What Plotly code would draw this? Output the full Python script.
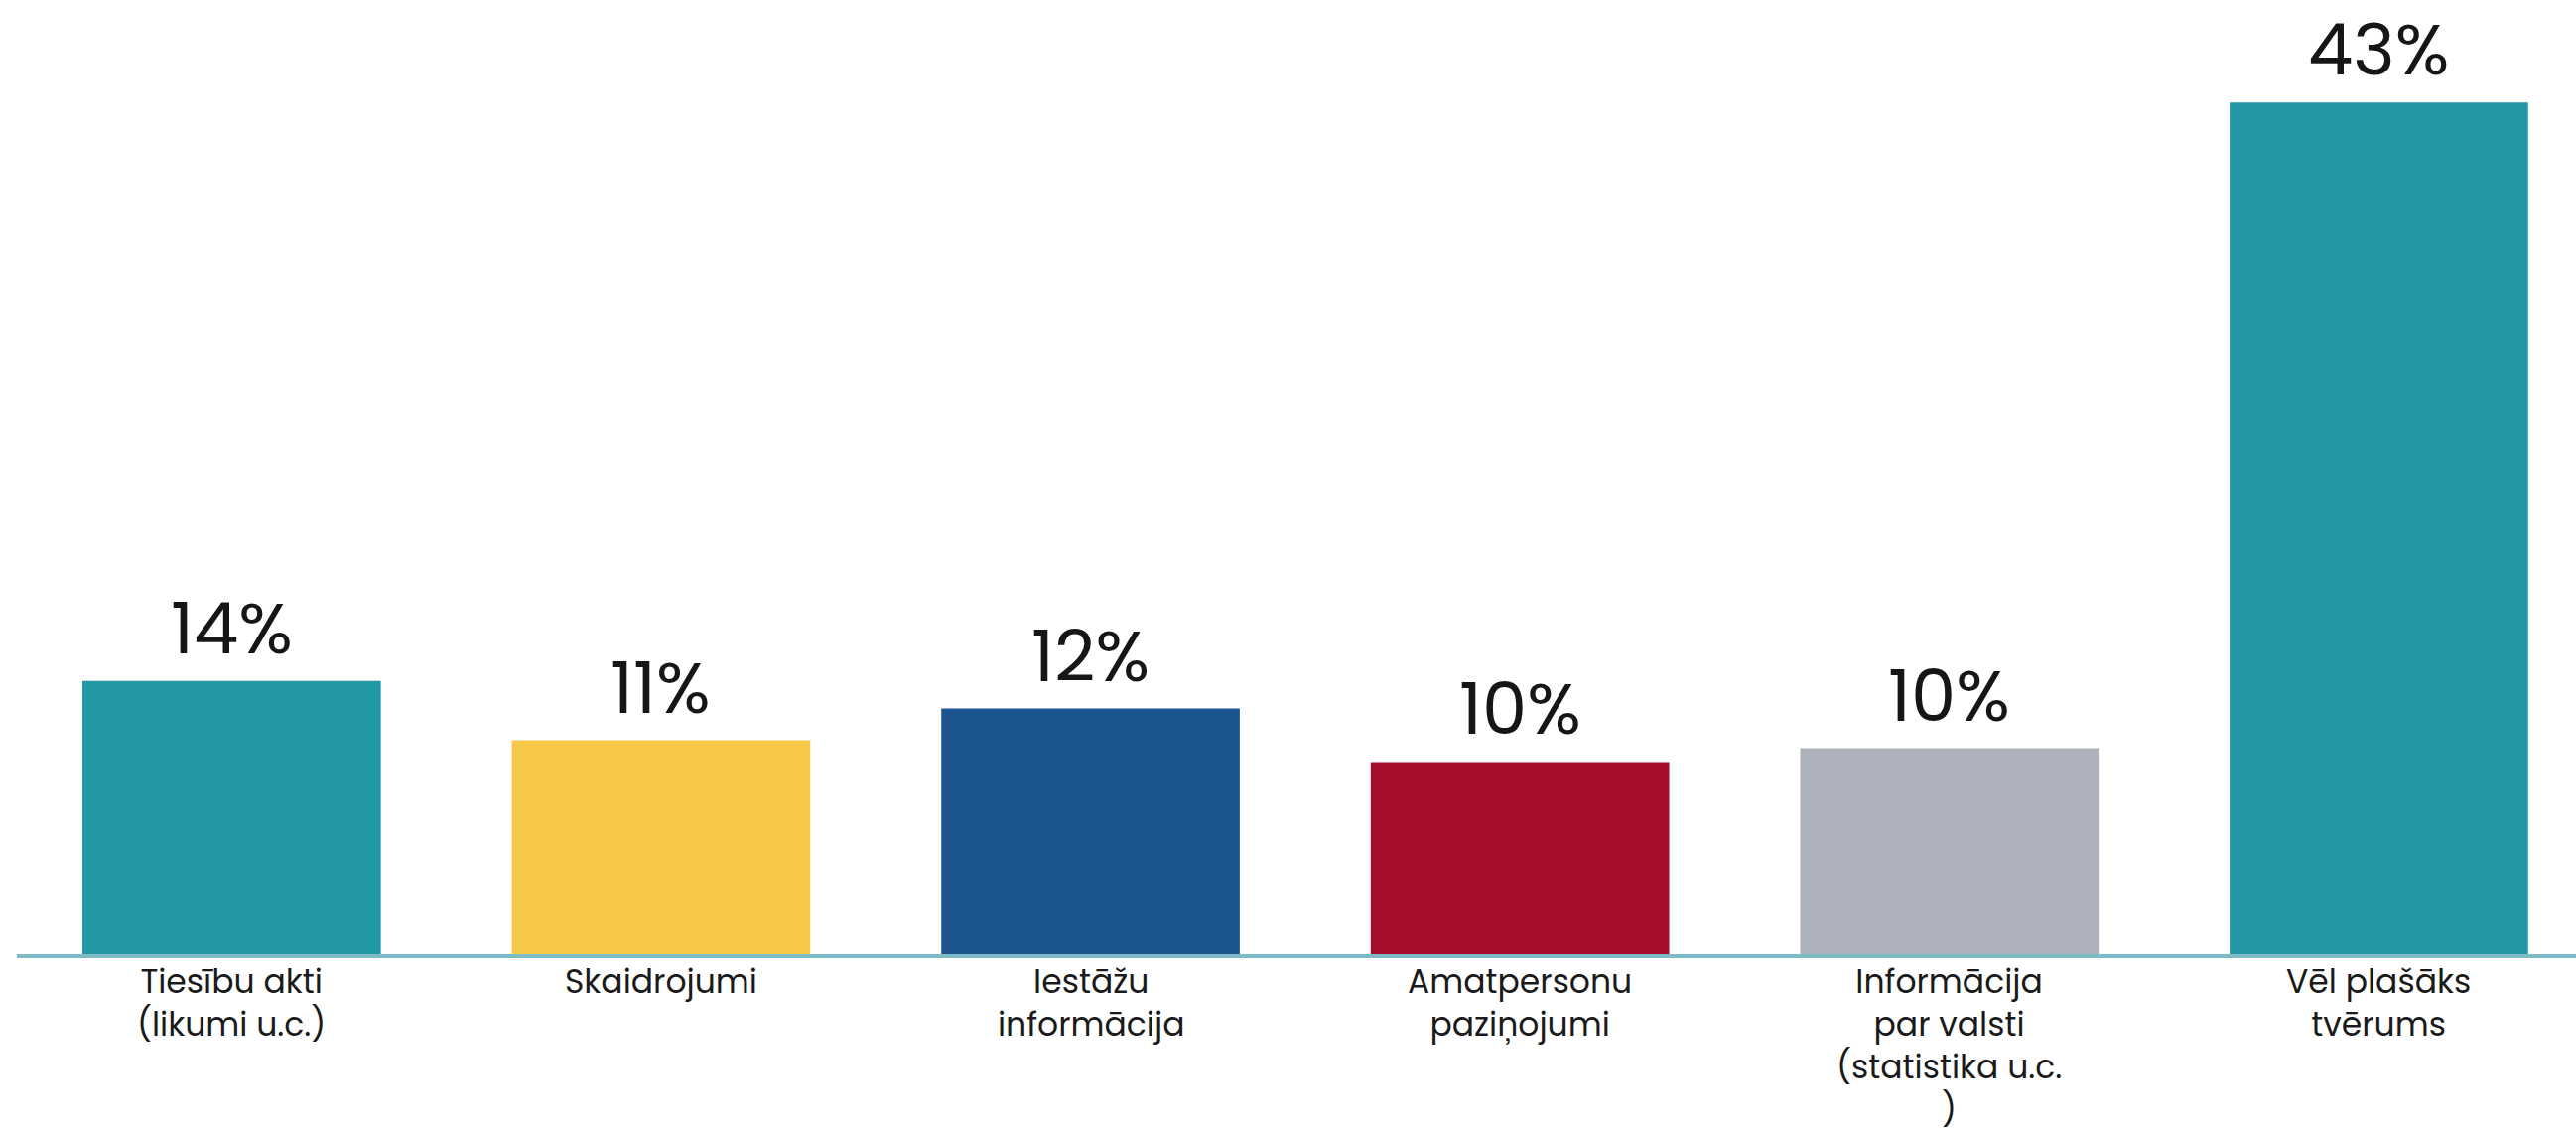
import plotly.graph_objects as go

categories = [
    "Tiesību akti<br>(likumi u.c.)",
    "Skaidrojumi",
    "Iestāžu<br>informācija",
    "Amatpersonu<br>paziņojumi",
    "Informācija<br>par valsti<br>(statistika u.c.<br>)",
    "Vēl plašāks<br>tvērums",
]
values = [13.8, 10.8, 12.4, 9.7, 10.4, 43.0]
value_labels = ["14%", "11%", "12%", "10%", "10%", "43%"]
colors = ["#2299a4", "#f6ca48", "#1d5590", "#a60c2c", "#acb1bb", "#2299a4"]

FONT = "Poppins, Inter, Lato, sans-serif"

fig = go.Figure(
    go.Bar(
        x=categories,
        y=values,
        marker=dict(color=colors, line=dict(width=0)),
        width=0.695,
        hoverinfo="skip",
    )
)

for c, v, t in zip(categories, values, value_labels):
    fig.add_annotation(
        x=c, y=v, text=t, showarrow=False, yanchor="bottom", yshift=1,
        font=dict(family=FONT, size=72, color="#161616"),
    )

# category labels below the axis (multi-line text)
for c in categories:
    fig.add_annotation(
        x=c, xref="x", y=0, yref="paper", text=c, showarrow=False,
        yanchor="top", yshift=-3, borderpad=0,
        font=dict(family=FONT, size=33, color="#1a1a1a"),
    )

fig.update_layout(
    width=2595,
    height=1141,
    margin=dict(l=17, r=0, t=0, b=180),
    paper_bgcolor="white",
    plot_bgcolor="white",
    showlegend=False,
    font=dict(family=FONT, color="#1a1a1a"),
)
fig.update_xaxes(
    range=[-0.5, 5.459],
    showline=True, linecolor="#7dbcc4", linewidth=4,
    ticks="", showgrid=False, zeroline=False, automargin=False,
    showticklabels=False,
)
fig.update_yaxes(
    range=[0, 48.17], visible=False, showgrid=False, zeroline=False,
)

fig.write_html("out.html", config={"displayModeBar": False},
               post_script="document.body.style.margin='0';")
